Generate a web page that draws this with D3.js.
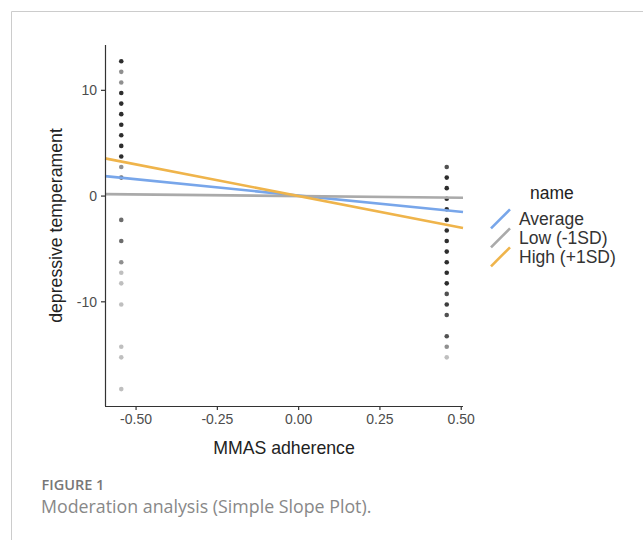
<!DOCTYPE html>
<html>
<head>
<meta charset="utf-8">
<script src="https://cdn.jsdelivr.net/npm/d3@7"></script>
<style>
  html, body { margin: 0; padding: 0; background: #fff; }
  svg { display: block; }
</style>
</head>
<body>
<svg id="chart" width="643" height="540"></svg>
<script>
// ---- data ----
const xTicks = [-0.50, -0.25, 0.00, 0.25, 0.50];
const yTicks = [-10, 0, 10];
const seriesNames = ["Average", "Low (-1SD)", "High (+1SD)"];
const seriesColors = ["#78a6ea", "#aaaaaa", "#efb44b"];
const lineX = [-0.594, 0.507];
const lineAverage = [1.84, -1.56];
const lineLow = [0.14, -0.20];
const lineHigh = [3.52, -3.07];
const leftX = -0.544;
const leftY = [12.7, 11.7, 10.7, 9.7, 8.7, 7.7, 6.7, 5.7, 4.7, 3.7, 2.7, 1.7, -2.3, -4.3, -6.3, -7.3, -8.3, -10.3, -14.3, -15.3, -18.3];
const leftCount = [6, 2, 2, 6, 6, 6, 6, 6, 6, 6, 2, 3, 3, 3, 2, 1, 1, 1, 1, 1, 1];
const rightX = 0.457;
const rightY = [2.7, 1.7, 0.7, -0.3, -1.3, -2.3, -3.3, -4.3, -5.3, -6.3, -7.3, -8.3, -9.3, -10.3, -11.3, -13.3, -14.3, -15.3];
const rightCount = [4, 6, 6, 6, 6, 6, 6, 6, 6, 6, 6, 6, 4, 5, 4, 4, 2, 1];

// ---- layout ----
const svg = d3.select("#chart");
const font = "'Liberation Sans', Arial, sans-serif";
const x = d3.scaleLinear().domain([-0.594, 0.507]).range([105, 463]);
const y = d3.scaleLinear().domain([-19.9, 14.24]).range([406, 45]);

// frame
svg.append("path")
  .attr("d", "M11.5,545 L11.5,11.5 L650,11.5")
  .attr("fill", "none").attr("stroke", "#cccccc").attr("stroke-width", 1);

// points
const pts = [];
leftY.forEach((v, i) => pts.push({x: leftX, y: v, n: leftCount[i]}));
rightY.forEach((v, i) => pts.push({x: rightX, y: v, n: rightCount[i]}));
svg.append("g").selectAll("circle").data(pts).join("circle")
  .attr("cx", d => x(d.x)).attr("cy", d => y(d.y)).attr("r", 2.3)
  .attr("fill", "#000")
  .attr("fill-opacity", d => 1 - Math.pow(0.75, d.n));

// lines
const lineData = [lineAverage, lineLow, lineHigh];
const line = d3.line().x((d, i) => x(lineX[i])).y(d => y(d));
svg.append("g").selectAll("path").data(lineData).join("path")
  .attr("d", d => line(d))
  .attr("fill", "none")
  .attr("stroke", (d, i) => seriesColors[i])
  .attr("stroke-width", 2.6);

// axes
const fmtX = d => d.toFixed(2);
const fmtY = d => String(d);
const xAxis = svg.append("g").attr("transform", "translate(0,406)")
  .call(d3.axisBottom(x).tickValues(xTicks).tickFormat(fmtX).tickSizeOuter(0).tickSize(4));
const yAxis = svg.append("g").attr("transform", "translate(105,0)")
  .call(d3.axisLeft(y).tickValues(yTicks).tickFormat(fmtY).tickSizeOuter(0).tickSize(4));
[xAxis, yAxis].forEach(g => {
  g.attr("font-family", font).attr("font-size", 14);
  g.select(".domain").attr("stroke", "#333").attr("stroke-width", 1.2);
  g.selectAll(".tick line").attr("stroke", "#333").attr("stroke-width", 1.2);
  g.selectAll(".tick text").attr("fill", "#4d4d4d")
    .style("font-family", font).style("font-size", "14px");
});
xAxis.selectAll(".tick text").attr("y", 8).attr("dy", "0.71em");
yAxis.selectAll(".tick text").attr("x", -8).attr("dy", "0.35em");
xAxis.select(".domain").attr("d", "M105,0.5H463");
yAxis.select(".domain").attr("d", "M0.5,45V406");

// axis titles
svg.append("text").attr("x", 284).attr("y", 454).attr("text-anchor", "middle")
  .style("font-family", font).style("font-size", "17.7px").attr("fill", "#222")
  .text("MMAS adherence");
svg.append("text").attr("transform", "translate(62,225.5) rotate(-90)").attr("text-anchor", "middle")
  .style("font-family", font).style("font-size", "17.7px").attr("fill", "#222")
  .text("depressive temperament");

// legend
const lg = svg.append("g");
lg.append("text").attr("x", 530).attr("y", 199)
  .style("font-family", font).style("font-size", "17.5px").attr("fill", "#222").text("name");
seriesNames.forEach((name, i) => {
  const top = 209.3 + i * 19;
  lg.append("line")
    .attr("x1", 491).attr("y1", top + 19).attr("x2", 510).attr("y2", top)
    .attr("stroke", seriesColors[i]).attr("stroke-width", 2.6);
  lg.append("text").attr("x", 519).attr("y", top + 15.7)
    .style("font-family", font).style("font-size", "17.5px").attr("fill", "#333").text(name);
});

// caption
svg.append("text").attr("x", 41.5).attr("y", 489.5)
  .style("font-family", "'Open Sans', sans-serif").style("font-size", "14.5px").style("font-weight", 600)
  .attr("fill", "#777").text("FIGURE 1");
svg.append("text").attr("x", 41).attr("y", 513)
  .style("font-family", "'Open Sans', sans-serif").style("font-size", "17.8px")
  .attr("fill", "#888").text("Moderation analysis (Simple Slope Plot).");
</script>
</body>
</html>
